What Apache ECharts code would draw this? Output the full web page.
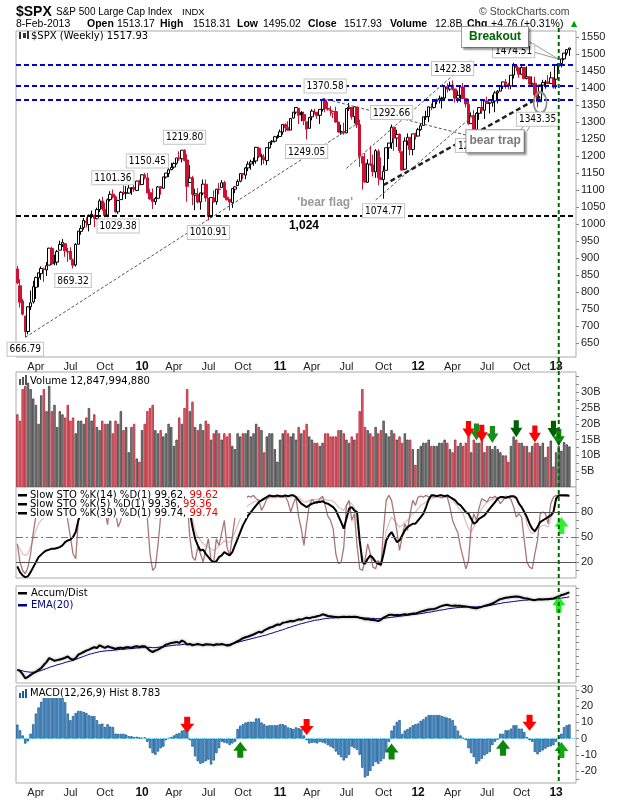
<!DOCTYPE html>
<html>
<head>
<meta charset="utf-8">
<title>$SPX weekly</title>
<script src="https://cdn.jsdelivr.net/npm/echarts@6/dist/echarts.min.js"></script>
<style>
html, body { margin: 0; padding: 0; background: #fff; }
#main { width: 620px; height: 800px; }
</style>
</head>
<body>
<div id="main"></div>
<script>
// week ending dates (MM-DD), one list per year
var w2009 = ['02-13','02-20','02-27','03-06','03-13','03-20','03-27','04-03','04-09','04-17','04-24','05-01','05-08','05-15','05-22','05-29','06-05','06-12','06-19','06-26','07-02','07-10','07-17','07-24','07-31','08-07','08-14','08-21','08-28','09-04','09-11','09-18','09-25','10-02','10-09','10-16','10-23','10-30','11-06','11-13','11-20','11-27','12-04','12-11','12-18','12-24','12-31'];
var w2010 = ['01-08','01-15','01-22','01-29','02-05','02-12','02-19','02-26','03-05','03-12','03-19','03-26','04-02','04-09','04-16','04-23','04-30','05-07','05-14','05-21','05-28','06-04','06-11','06-18','06-25','07-02','07-09','07-16','07-23','07-30','08-06','08-13','08-20','08-27','09-03','09-10','09-17','09-24','10-01','10-08','10-15','10-22','10-29','11-05','11-12','11-19','11-26','12-03','12-10','12-17','12-23','12-31'];
var w2011 = ['01-07','01-14','01-21','01-28','02-04','02-11','02-18','02-25','03-04','03-11','03-18','03-25','04-01','04-08','04-15','04-21','04-29','05-06','05-13','05-20','05-27','06-03','06-10','06-17','06-24','07-01','07-08','07-15','07-22','07-29','08-05','08-12','08-19','08-26','09-02','09-09','09-16','09-23','09-30','10-07','10-14','10-21','10-28','11-04','11-11','11-18','11-25','12-02','12-09','12-16','12-23','12-30'];
var w2012 = ['01-06','01-13','01-20','01-27','02-03','02-10','02-17','02-24','03-02','03-09','03-16','03-23','03-30','04-05','04-13','04-20','04-27','05-04','05-11','05-18','05-25','06-01','06-08','06-15','06-22','06-29','07-06','07-13','07-20','07-27','08-03','08-10','08-17','08-24','08-31','09-07','09-14','09-21','09-28','10-05','10-12','10-19','10-26','11-02','11-09','11-16','11-23','11-30','12-07','12-14','12-21','12-28'];
var w2013 = ['01-04','01-11','01-18','01-25','02-01','02-08'];

// weekly bars: [open, high, low, close]
var spx2009 = [
[868.2,877.0,822.9,826.8],[818.5,837.6,754.3,770.1],[773.7,780.1,731.2,735.1],[729.6,729.6,666.8,683.4],
[684.0,758.3,675.9,756.6],[756.6,804.5,747.0,768.5],[771.0,833.0,765.9,815.9],[814.0,845.6,779.8,842.5],
[842.0,856.9,814.5,856.6],[854.0,875.6,836.0,869.6],[868.0,871.8,830.0,866.2],[865.0,888.7,847.1,877.5],
[879.2,930.2,878.9,929.2],[928.0,933.1,879.4,882.9],[886.0,910.0,878.9,887.0],[888.0,923.9,878.8,919.1],
[923.3,951.0,923.3,940.1],[940.1,956.2,932.7,946.2],[942.5,942.5,903.8,921.2],[918.1,930.2,888.9,918.9],
[919.9,931.9,895.0,896.4],[894.3,898.7,869.3,879.1],[880.0,943.9,875.1,940.4],[940.6,979.4,940.6,979.3],
[978.6,996.7,968.7,987.5],[990.2,1018.0,983.8,1010.5],[1008.9,1020.2,990.2,1004.1],[998.7,1027.6,978.5,1026.1],
[1026.6,1039.5,1017.0,1028.9],[1025.2,1028.0,991.0,1016.4],[1016.4,1048.2,1013.0,1042.7],[1042.7,1074.0,1035.0,1068.3],
[1067.9,1080.2,1039.3,1044.4],[1043.0,1063.0,1019.9,1025.2],[1026.9,1075.3,1020.2,1071.5],[1072.0,1096.6,1066.8,1087.7],
[1088.0,1101.4,1075.3,1079.6],[1080.4,1084.2,1033.4,1036.2],[1036.2,1071.5,1029.4,1069.3],[1072.0,1096.6,1071.5,1093.5],
[1094.0,1113.7,1085.0,1091.4],[1091.0,1112.4,1073.7,1091.5],[1091.1,1119.1,1090.0,1106.0],[1105.5,1108.0,1085.9,1106.4],
[1107.8,1117.7,1093.9,1102.5],[1098.9,1127.5,1097.0,1126.5],[1127.3,1130.4,1114.8,1115.1]
];
var spx2010 = [
[1116.6,1145.4,1116.6,1145.0],[1145.0,1150.4,1131.4,1136.0],[1136.0,1150.45,1090.2,1091.8],[1092.4,1103.7,1071.6,1073.9],
[1073.9,1104.7,1044.5,1066.2],[1065.5,1080.0,1056.5,1075.5],[1075.9,1112.4,1075.9,1109.2],[1110.0,1112.3,1086.0,1104.5],
[1105.4,1139.0,1105.4,1138.7],[1138.4,1150.0,1134.0,1150.0],[1148.5,1169.2,1138.3,1159.9],[1160.0,1180.7,1158.3,1166.6],
[1167.7,1181.4,1163.1,1178.1],[1178.7,1194.7,1175.0,1194.4],[1194.9,1213.9,1186.0,1192.1],[1192.1,1217.3,1181.6,1217.3],
[1217.1,1219.8,1185.0,1186.7],[1188.6,1205.1,1065.8,1110.9],[1122.3,1173.6,1122.3,1135.7],[1136.5,1141.9,1055.9,1087.7],
[1084.8,1104.0,1040.8,1089.4],[1087.3,1105.7,1060.6,1064.9],[1065.0,1092.2,1042.2,1091.6],[1091.2,1131.2,1085.0,1117.5],
[1117.1,1131.2,1066.0,1076.8],[1075.9,1075.9,1010.9,1022.6],[1022.1,1078.2,1018.4,1078.0],[1077.2,1099.1,1063.3,1064.9],
[1066.0,1103.7,1056.9,1102.7],[1102.9,1120.9,1088.0,1101.6],[1107.5,1129.2,1107.5,1121.6],[1122.1,1127.3,1076.6,1079.3],
[1079.3,1100.1,1069.2,1071.7],[1073.4,1073.4,1039.7,1064.6],[1062.9,1105.1,1047.7,1104.5],[1102.6,1110.9,1091.2,1109.6],
[1113.4,1131.5,1113.4,1125.6],[1126.1,1148.9,1122.8,1148.7],[1148.6,1150.3,1131.9,1146.2],[1144.0,1167.7,1131.9,1165.2],
[1165.3,1184.4,1155.7,1176.2],[1176.8,1189.4,1159.7,1183.1],[1184.7,1196.1,1171.7,1183.3],[1185.7,1227.1,1177.7,1225.9],
[1223.2,1227.1,1194.1,1199.2],[1200.4,1207.4,1173.0,1199.7],[1196.8,1205.3,1176.8,1189.4],[1186.6,1225.6,1173.6,1224.7],
[1223.9,1240.4,1222.2,1240.4],[1241.8,1246.7,1232.9,1243.9],[1243.9,1259.4,1240.1,1256.8],[1254.7,1262.6,1251.5,1257.6]
];
var spx2011 = [
[1257.6,1278.2,1257.6,1271.5],[1270.8,1293.2,1262.7,1293.2],[1293.2,1296.1,1271.3,1283.4],[1283.3,1302.7,1275.1,1276.3],
[1276.5,1311.0,1276.5,1310.9],[1311.9,1330.0,1311.0,1329.2],[1329.2,1344.1,1322.8,1343.0],[1340.4,1340.4,1294.3,1319.9],
[1328.6,1332.3,1302.6,1321.2],[1322.7,1330.9,1291.2,1304.3],[1301.2,1301.2,1249.1,1279.2],[1281.7,1314.8,1281.6,1313.8],
[1315.5,1337.9,1305.3,1332.4],[1329.5,1339.5,1322.9,1328.2],[1329.0,1329.0,1309.7,1319.7],[1320.0,1337.5,1294.7,1337.4],
[1337.1,1364.6,1331.1,1363.6],[1365.2,1370.6,1329.2,1340.2],[1340.2,1359.4,1333.6,1337.8],[1334.8,1346.8,1318.5,1333.3],
[1326.3,1334.6,1311.8,1331.1],[1331.1,1345.2,1297.9,1300.2],[1300.3,1300.3,1268.2,1271.0],[1271.0,1292.5,1262.7,1271.5],
[1272.2,1298.6,1262.9,1268.5],[1268.4,1341.0,1267.4,1339.7],[1339.6,1356.5,1333.2,1343.8],[1343.3,1343.3,1307.4,1316.1],
[1315.9,1347.0,1295.9,1345.0],[1344.3,1344.3,1282.9,1292.3],[1292.6,1307.4,1168.1,1199.4],[1198.5,1198.6,1101.5,1178.8],
[1179.2,1208.5,1122.1,1123.5],[1123.2,1190.7,1121.1,1176.8],[1177.9,1230.7,1170.6,1174.0],[1173.6,1204.4,1140.1,1154.2],
[1153.5,1220.4,1136.1,1216.0],[1214.0,1220.0,1114.2,1136.4],[1136.9,1195.9,1128.9,1131.4],[1131.2,1171.4,1074.8,1155.5],
[1158.2,1224.6,1158.2,1224.6],[1224.5,1239.0,1191.5,1238.3],[1238.7,1292.7,1220.9,1285.1],[1284.9,1284.9,1215.4,1253.2],
[1253.2,1277.6,1226.6,1263.9],[1263.9,1266.9,1209.4,1215.7],[1212.9,1212.9,1158.7,1158.7],[1161.4,1255.0,1158.7,1244.3],
[1244.3,1266.7,1231.5,1255.2],[1255.1,1255.1,1202.4,1219.7],[1219.7,1265.4,1202.4,1265.3],[1265.0,1269.4,1248.6,1257.6]
];
var spx2012 = [
[1258.9,1283.1,1258.9,1277.8],[1277.8,1296.8,1274.7,1289.1],[1290.2,1315.5,1290.2,1315.4],[1315.3,1333.5,1306.1,1316.3],
[1316.2,1345.3,1300.5,1344.9],[1344.3,1354.3,1335.0,1342.6],[1343.1,1363.4,1340.0,1361.2],[1361.2,1368.9,1352.3,1365.7],
[1365.2,1378.0,1354.9,1369.6],[1369.6,1374.8,1340.0,1370.9],[1370.8,1405.9,1366.7,1404.2],[1404.2,1414.0,1386.9,1397.1],
[1397.1,1419.2,1391.6,1408.5],[1408.5,1422.4,1392.8,1398.1],[1397.5,1397.5,1357.4,1370.3],[1370.3,1392.8,1357.4,1378.5],
[1378.9,1406.6,1358.8,1403.4],[1403.3,1415.3,1367.7,1369.1],[1369.2,1369.2,1343.1,1353.4],[1351.9,1364.0,1291.9,1295.2],
[1295.7,1328.5,1295.7,1317.8],[1318.9,1334.9,1277.9,1278.0],[1278.3,1329.1,1266.7,1325.7],[1325.9,1343.3,1306.6,1342.8],
[1343.4,1363.5,1324.4,1335.0],[1334.9,1362.2,1309.3,1362.2],[1362.3,1374.8,1354.7,1354.7],[1354.7,1357.6,1325.4,1356.8],
[1356.8,1380.4,1345.1,1362.7],[1362.3,1391.7,1329.2,1386.0],[1385.9,1394.2,1354.7,1391.0],[1391.0,1407.1,1391.0,1405.9],
[1405.9,1418.7,1397.3,1418.2],[1418.1,1426.7,1398.0,1411.1],[1411.1,1416.3,1397.0,1406.6],[1406.5,1437.9,1396.6,1437.9],
[1438.4,1474.5,1428.0,1465.8],[1465.4,1467.1,1449.4,1460.2],[1459.5,1460.7,1430.5,1440.7],[1440.9,1471.0,1439.0,1460.9],
[1460.9,1461.3,1425.5,1428.6],[1428.8,1464.0,1425.5,1433.2],[1433.2,1435.5,1403.3,1411.9],[1411.9,1434.3,1410.0,1414.2],
[1414.0,1433.4,1373.0,1379.9],[1380.0,1388.8,1343.4,1359.9],[1359.9,1409.2,1359.9,1409.2],[1409.0,1424.5,1385.4,1416.2],
[1416.3,1423.7,1398.2,1418.1],[1418.1,1438.6,1411.9,1413.6],[1413.5,1448.0,1413.5,1430.2],[1430.2,1430.7,1398.1,1402.4]
];
var spx2013 = [
[1426.2,1467.9,1398.1,1466.5],[1466.5,1472.3,1451.6,1472.1],[1472.1,1486.0,1461.0,1486.0],[1486.0,1503.3,1482.1,1503.0],
[1503.0,1514.4,1496.3,1513.2],[1513.17,1518.31,1495.02,1517.93]
];

// weekly volume, billions
var vol2009 = [23,21,31,32,33,31,28,26,20,29,31,24,32,24,26,19,24,23,22,26,21,22,17,21,21,20,22,25,21,23,19,18,21,20,20,21,17,21,20,24,18,19,11,19,20,9,8];
var vol2010 = [18,20,24,25,26,18,17,18,16,17,20,19,13,15,22,20,25,31,24,27,19,18,20,18,21,20,15,17,18,17,15,17,16,17,13,12,17,16,17,17,18,16,17,20,19,18,11,16,17,17,12,8];
var vol2011 = [15,17,18,17,16,17,15,19,17,18,20,16,15,14,14,13,14,17,17,16,16,16,18,18,17,15,14,16,15,17,24,31,19,18,17,16,19,17,18,21,17,16,18,17,15,16,14,17,15,15,12,7];
var vol2012 = [12,13,14,14,15,13,13,13,14,14,15,14,12,11,15,13,14,13,14,16,11,15,14,14,17,11,13,13,12,13,12,11,10,10,8,13,16,15,14,14,13,13,11,13,14,14,13,14,9.5,12.8,14.7,6.5];
var vol2013 = [11,13,11.5,14.2,13.5,12.85];

// slow stochastics
var stoK14 = [15,8,4,2,3,8,14,20,26,29,32,34,35,36,36,37,38,40,44,46,47,50,56,70,80,88,94,96,97,97,
96,97,98,96,90,88,92,94,90,84,86,90,92,93,94,93,95,94,96,96,88,78,74,75,80,84,90,93,95,96,
97,98,97,98,96,80,62,48,40,34,35,30,26,22,20,21,26,28,32,30,28,32,40,48,56,64,70,76,80,84,
88,92,94,96,98,100,99,99,100,99,99,100,99,100,100,98,94,90,88,86,88,90,91,92,92,93,91,90,88,
86,82,75,68,60,72,84,86,82,80,46,20,18,24,28,25,20,18,17,30,46,52,56,50,44,46,52,58,62,64,
66,66,70,74,78,86,95,100,100,99,100,100,99,100,98,96,94,90,88,84,80,78,72,66,68,72,74,76,80,84,
88,92,96,98,98,97,98,99,99,97,90,86,80,74,66,60,57,62,68,70,72,74,76,80,96,100,100,100,100,99.62];
var stoK5 = [42,20,10,6,14,30,55,75,88,92,90,94,96,80,78,85,92,96,90,70,50,30,24,70,95,100,98,92,96,94,
88,96,98,82,65,90,96,80,62,70,88,94,90,92,88,90,96,94,98,72,30,10,14,40,75,90,98,100,99,98,
100,98,96,99,94,50,26,22,38,30,20,35,48,22,20,48,40,55,70,38,28,50,74,90,96,98,96,99,98,100,
96,94,82,88,96,98,100,99,98,100,98,99,92,80,90,98,74,60,40,66,88,95,92,90,96,99,88,75,70,
60,30,18,20,38,88,94,70,78,40,12,10,22,42,30,14,12,22,15,60,94,100,94,76,58,34,50,66,58,78,
94,88,98,99,98,100,98,99,98,100,98,97,99,98,86,70,62,55,38,25,12,22,62,78,70,85,96,94,92,98,
97,99,96,90,94,99,98,95,86,74,78,74,46,20,14,12,30,46,78,80,78,66,90,98,100,99,100,99,99,99.36];
var stoK39 = [40,36,30,28,30,38,48,58,66,70,74,78,80,80,82,84,86,86,84,82,80,76,74,84,90,94,96,96,97,97,
96,97,97,95,90,92,94,93,88,86,90,92,93,94,94,94,95,95,96,94,86,78,72,74,80,86,92,95,96,97,
97,98,97,98,97,88,72,58,50,46,42,40,38,36,34,36,40,42,46,44,44,48,56,64,72,78,84,88,90,92,
93,94,94,95,96,97,97,97,98,97,98,98,99,98,98,99,98,95,92,92,94,95,95,95,96,96,95,94,94,
93,90,86,84,82,88,92,90,86,66,42,28,20,24,26,22,22,20,20,36,58,66,74,70,66,62,64,68,70,74,
78,80,84,88,90,92,94,96,97,98,98,99,98,98,97,94,90,86,82,78,68,60,56,62,70,78,84,88,92,94,
95,96,97,97,96,97,97,98,97,96,92,86,80,66,58,54,56,60,62,64,64,62,72,80,98,99,99,100,100,99.74];

// accumulation / distribution line and its 20-week EMA (relative units)
var accDist = [39,36,26,14,18,24,29,33,39,44,54,62,74,70,66,68,70,72,75,79,72,69,74,84,88,92,96,99,103,106,
104,112,108,104,109,106,104,101,104,105,103,106,106,104,108,109,107,109,109,103,96,92,96,99,104,108,114,116,119,120,
122,119,126,122,114,116,112,114,116,114,112,115,114,114,112,115,114,116,114,111,112,116,120,124,128,133,136,138,141,144,
148,152,150,156,160,164,166,170,174,173,179,180,182,184,183,186,189,188,191,194,192,195,196,198,200,204,202,199,198,197,
196,195,196,197,196,197,196,197,196,194,192,189,190,188,187,186,184,188,194,198,202,203,201,202,201,203,204,203,205,206,
206,209,212,214,216,218,219,220,222,226,229,231,232,230,229,230,229,229,228,227,226,224,223,222,224,226,229,231,233,236,
240,245,249,251,253,254,255,256,257,256,254,252,251,249,247,246,248,249,248,249,249,250,251,254,257,261,263,266,269];
var accDistEma = [39,38,36,34,33,32,32,33,35,37,40,43,46,49,51,54,56,58,61,63,65,67,70,73,76,79,82,85,87,89,
91,93,94,95,96,96,97,98,99,100,100,101,102,102,103,104,104,105,105,106,106,105,105,106,107,108,109,110,111,112,
113,113,114,115,115,115,115,114,114,114,114,114,114,114,114,114,114,114,114,114,115,117,119,121,123,125,127,129,131,133,
135,137,139,141,143,146,148,151,153,156,158,161,164,166,169,171,174,176,178,180,182,184,186,187,188,190,191,192,193,193,
194,194,195,195,195,195,195,195,195,194,194,193,193,192,192,191,191,191,192,193,194,195,196,197,198,199,200,201,202,203,
204,205,206,207,209,210,211,213,214,216,217,218,220,221,222,223,224,224,225,226,226,226,226,226,226,227,228,229,230,232,
233,235,236,238,239,240,241,242,243,244,245,246,246,247,247,247,248,248,248,249,249,249,250,250,251,252,253,254,256];

// MACD(12,26,9) histogram
var macdHist = [8.7,5.2,2,-3.1,-1.7,3.1,8.9,15.5,19.3,22.8,25.5,27,28,28.5,28,27.5,26.5,25.5,22.5,15.5,
11.4,14,15.9,17.2,17,16.5,15.9,14.5,14,14,11.4,8.9,9.3,7.2,8.9,7.5,7.2,3.1,3,3,
3,2.5,1.5,1.5,1,1.2,0.8,0.6,0.8,-2,-6,-9,-10,-8,-6,-5,-1,0.5,1,2,
3,3.5,5,5.5,5.6,-1,-5,-11,-14,-15.6,-15,-14,-13,-16,-13.5,-9,-6,-2,-2.5,-3,
-4,-3,-2,6,8,9,10,10.4,10.5,10.4,12.5,12.5,10,9,8,8.3,8.3,8.3,8.3,9,
9,8.3,7,6.5,6,7,6.5,6,2,-1,-3,-2.7,-2.5,-3,-2,-2.5,-3,-4,-5,-6,
-8,-10,-11.5,-13.5,-12,-10,-5,-6,-7,-10,-18,-24,-23,-20,-17,-14.6,-15.6,-14,-12.5,-8,
-2,5,8,10.4,11.5,3,5,6,7,8.3,9,9.4,11,12,13.5,14.6,14.6,14.6,14.6,14.6,
14,13.5,13,12.5,11.5,8,5,2,0.5,-1,-6,-9,-11.5,-15.6,-14,-12.5,-10.4,-9.5,-8.3,-4,
-2,-0.6,3.1,3,5.2,5.2,6.2,8.3,8.3,6.2,6.2,4.1,1,-1,-2,-8.3,-9.7,-8.3,-7.3,-6.2,
-5.2,-4.8,-4.1,-2,1,3.1,7.2,8.3,8.78];

// axis ticks
var priceTicks = [650,700,750,800,850,900,950,1000,1050,1100,1150,1200,1250,1300,1350,1400,1450,1500,1550];
var volTicks = [5,10,15,20,25,30];
var stoTicks = [20,50,80];
var macdTicks = [-20,-10,0,10,20,30];

// annotations
var levels = [1470,1407,1366];
var floorLevel = 1024;
var peakIdx = [3,21,36,38,49,63,72,109,116,138,141,164,173,187,196];
var peakVal = [666.79,869.32,1101.36,1029.38,1150.45,1219.80,1010.91,1249.05,1370.58,1074.77,1292.66,1422.38,1266.74,1474.51,1343.35];
var peakPos = ['bottom','bottom','top','bottom','top','top','bottom','bottom','top','bottom','top','top','bottom','top','bottom'];
var breakoutWeek = 204;
var volArrows = [[170,18.2,'d','#ff0000'],[173,17.4,'d','#1a8c1a'],[175,17,'d','#ff0000'],[179,16.6,'d','#1a8c1a'],[188,18.4,'d','#006000'],[195,16.8,'d','#ff0000'],[202,18.3,'d','#006000'],[204,15.7,'d','#0a8a0a']];
var stoArrows = [[205,64,'u','#33ee33']];
var adArrows = [[204,234,'u','#22ee22']];
var macdArrows = [[64,8.6,'d','#ff0000'],[109,7.2,'d','#ff0000'],[193,9.8,'d','#ff0000'],[84,-6.8,'u','#0a870a'],[141,-8,'u','#0a870a'],[183,-5.7,'u','#0a870a'],[205,-7,'u','#14a814']];

var RED = '#cc1133';
var SANS = 'Liberation Sans';
var VERD = 'DejaVu Sans';

var weeks = [];
[[2009, w2009], [2010, w2010], [2011, w2011], [2012, w2012], [2013, w2013]].forEach(function (p) {
    p[1].forEach(function (d) { weeks.push(p[0] + '-' + d); });
});
var cats = weeks.concat(['', '']);   // a little room after the last bar

var ohlc = [].concat(spx2009, spx2010, spx2011, spx2012, spx2013);
var volume = [].concat(vol2009, vol2010, vol2011, vol2012, vol2013);

var monthName = {4: 'Apr', 7: 'Jul', 10: 'Oct'};
var tickText = weeks.map(function (d, i) {
    if (i === 0) return '';
    var m = +d.slice(5, 7), pm = +weeks[i - 1].slice(5, 7);
    if (m === pm || (m - 1) % 3 !== 0) return '';
    return m === 1 ? '{y|' + d.slice(2, 4) + '}' : monthName[m];
});

var candleData = ohlc.map(function (r, i) {
    var o = r[0], h = r[1], l = r[2], c = r[3];
    var prev = i > 0 ? ohlc[i - 1][3] : o;
    var line = c < prev ? RED : '#000';
    var fill = c > o ? '#fff' : line;
    return {value: [o, c, l, h], itemStyle: {color: fill, color0: fill, borderColor: line, borderColor0: line}};
});

var volData = volume.map(function (v, i) {
    var prev = i > 0 ? ohlc[i - 1][3] : ohlc[i][0];
    var down = ohlc[i][3] < prev;
    return {value: v, itemStyle: down ? {color: '#de7078', borderColor: '#b3202e'} : {color: '#8b8b8b', borderColor: '#3a3a3a'}};
});

var arrowDown = 'path://M4,0L10,0L10,7L14,7L7,16L0,7L4,7Z';
var arrowUp = 'path://M7,0L14,9L10,9L10,16L4,16L4,9L0,9Z';
function arrowMarks(list, size) {
    return {
        silent: true, animation: false, label: {show: false},
        data: list.map(function (a) {
            return {coord: [a[0], a[1]], symbol: a[2] === 'd' ? arrowDown : arrowUp, symbolSize: size, itemStyle: {color: a[3]}};
        })
    };
}

var peakMarks = peakIdx.map(function (ix, k) {
    return {
        coord: [ix, peakVal[k]], symbol: 'rect', symbolSize: 1, itemStyle: {color: 'rgba(0,0,0,0)'},
        label: {show: true, position: peakPos[k], distance: 5, formatter: peakVal[k].toFixed(2)}
    };
});

var thin = {color: '#555', width: 1, type: [3, 2]};
function seg(a, b, style) { return [{coord: a, lineStyle: style}, {coord: b}]; }

var grids = [
    {left: 16, right: 44, top: 31, height: 326},
    {left: 16, right: 44, top: 372, height: 115},
    {left: 16, right: 44, top: 487, height: 91},
    {left: 16, right: 44, top: 586, height: 97},
    {left: 16, right: 44, top: 686, height: 97}
].map(function (g) { g.show = true; g.borderColor = '#aaa'; g.borderWidth = 1; g.backgroundColor = '#fff'; return g; });

function xAx(gi, showLabel) {
    return {
        type: 'category', gridIndex: gi, data: cats, boundaryGap: true,
        axisLine: {show: false}, axisTick: {show: false}, splitLine: {show: false},
        axisLabel: showLabel ? {
            show: true, margin: 4, fontSize: 11, fontFamily: SANS, color: '#222',
            interval: function (i) { return !!tickText[i]; },
            formatter: function (v, i) { return tickText[i] || ''; },
            rich: {y: {fontWeight: 'bold', fontSize: 12, fontFamily: SANS, color: '#111'}}
        } : {show: false}
    };
}
function yAx(gi, min, max, labels, ticks, fmt) {
    return {
        type: 'value', gridIndex: gi, position: 'right', min: min, max: max,
        splitLine: {show: false}, axisLine: {show: false},
        axisTick: {show: true, length: 3, customValues: ticks, lineStyle: {color: '#888'}},
        axisLabel: labels ? {show: true, customValues: labels, margin: 5, fontSize: 11, fontFamily: SANS, color: '#222',
            formatter: fmt || function (v) { return String(v); }} : {show: false}
    };
}

var option = {
    animation: false,
    backgroundColor: '#fff',
    textStyle: {fontFamily: SANS},
    grid: grids,
    xAxis: [xAx(0, true), xAx(1, false), xAx(2, false), xAx(3, false), xAx(4, true)],
    yAxis: [
        yAx(0, 609, 1568, priceTicks, priceTicks),
        yAx(1, 0, 36.4, volTicks, [2.5, 5, 7.5, 10, 12.5, 15, 17.5, 20, 22.5, 25, 27.5, 30, 32.5, 35], function (v) { return v + 'B'; }),
        yAx(2, 1, 110, stoTicks, [10, 20, 30, 40, 50, 60, 70, 80, 90, 100]),
        yAx(3, 0, 288, null, [20, 40, 60, 80, 100, 120, 140, 160, 180, 200, 220, 240, 260, 280]),
        yAx(4, -27.4, 32.5, macdTicks, [-25, -20, -15, -10, -5, 0, 5, 10, 15, 20, 25, 30])
    ],
    series: [
        {
            name: '$SPX', type: 'candlestick', xAxisIndex: 0, yAxisIndex: 0, z: 3,
            barWidth: 3, data: candleData, itemStyle: {borderWidth: 1},
            markLine: {
                silent: true, animation: false, symbol: ['none', 'none'], label: {show: false},
                data: levels.map(function (v) { return {yAxis: v, lineStyle: {color: '#0000dd', width: 2, type: [5, 3]}}; })
                    .concat([{yAxis: floorLevel, lineStyle: {color: '#000', width: 2, type: [5, 3]}}])
                    .concat([
                        seg([3, 666.79], [129, 1300], thin),
                        seg([124, 1164], [171, 1484], thin),
                        seg([135, 1071], [172, 1321], thin),
                        seg([115, 1370], [169, 1262], thin),
                        seg([138, 1115], [197, 1374], {color: '#222', width: 2.5, type: [5, 3]})
                    ])
            },
            markPoint: {
                silent: true, animation: false,
                label: {color: '#000', fontSize: 10, fontFamily: 'DejaVu Sans Condensed', backgroundColor: '#fff', borderColor: '#c4c4c4', borderWidth: 1, padding: [2, 2, 1, 2]},
                data: peakMarks
            }
        },
        {
            name: 'notes', type: 'line', xAxisIndex: 0, yAxisIndex: 0, z: 6, data: [], symbol: 'none',
            markLine: {
                silent: true, animation: false, symbol: ['none', 'none'], label: {show: false},
                data: [
                    seg([188, 1521], [204, 1485], {color: '#999', width: 1, type: 'solid'}),
                    seg([192, 1541], [204, 1485], {color: '#999', width: 1, type: 'solid'}),
                    seg([189, 1273], [196, 1329], {color: '#999', width: 1, type: 'solid'}),
                    seg([192, 1273], [196, 1329], {color: '#999', width: 1, type: 'solid'})
                ]
            },
            markPoint: {
                silent: true, animation: false,
                data: [
                    {coord: [197, 1357], symbol: 'circle', symbolSize: [13, 21], itemStyle: {color: 'rgba(0,0,0,0)', borderColor: '#8a8a8a', borderWidth: 2}, label: {show: false}},
                    {coord: [180, 1550], symbol: 'rect', symbolSize: 1, itemStyle: {color: 'rgba(0,0,0,0)'},
                        label: {show: true, position: 'inside', formatter: 'Breakout', color: '#006600', fontWeight: 'bold', fontSize: 12, fontFamily: SANS,
                            backgroundColor: '#fff', borderColor: '#999', borderWidth: 1, padding: [4, 7], shadowColor: 'rgba(0,0,0,0.3)', shadowOffsetX: 2, shadowOffsetY: 2, shadowBlur: 2}},
                    {coord: [180, 1244], symbol: 'rect', symbolSize: 1, itemStyle: {color: 'rgba(0,0,0,0)'},
                        label: {show: true, position: 'inside', formatter: 'bear trap', color: '#7a7a7a', fontWeight: 'bold', fontSize: 12, fontFamily: SANS,
                            backgroundColor: '#fff', borderColor: '#999', borderWidth: 1, padding: [5, 3], shadowColor: 'rgba(0,0,0,0.3)', shadowOffsetX: 2, shadowOffsetY: 2, shadowBlur: 2}},
                    {coord: [116, 1062], symbol: 'rect', symbolSize: 1, itemStyle: {color: 'rgba(0,0,0,0)'},
                        label: {show: true, position: 'inside', formatter: "'bear flag'", color: '#999', fontWeight: 'bold', fontSize: 12, fontFamily: SANS}},
                    {coord: [108, 994], symbol: 'rect', symbolSize: 1, itemStyle: {color: 'rgba(0,0,0,0)'},
                        label: {show: true, position: 'inside', formatter: '1,024', color: '#000', fontWeight: 'bold', fontSize: 12, fontFamily: SANS}}
                ]
            }
        },
        {
            name: 'Volume', type: 'bar', xAxisIndex: 1, yAxisIndex: 1, data: volData,
            barCategoryGap: '12%', itemStyle: {borderWidth: 0.8},
            markPoint: arrowMarks(volArrows, [12, 17])
        },
        {
            name: 'K39', type: 'line', xAxisIndex: 2, yAxisIndex: 2, data: stoK39, symbol: 'none',
            lineStyle: {color: '#dcc4c4', width: 1.3},
            markLine: {
                silent: true, animation: false, symbol: ['none', 'none'], label: {show: false},
                lineStyle: {color: '#555', width: 1, type: 'solid'},
                data: [{yAxis: 80}, {yAxis: 20}, {yAxis: 50, lineStyle: {color: '#777', width: 1, type: [7, 3, 2, 3]}}]
            }
        },
        {name: 'K5', type: 'line', xAxisIndex: 2, yAxisIndex: 2, data: stoK5, symbol: 'none', lineStyle: {color: '#a97876', width: 1.3}},
        {name: 'K14', type: 'line', xAxisIndex: 2, yAxisIndex: 2, data: stoK14, symbol: 'none', lineStyle: {color: '#000', width: 2}, z: 4,
            markPoint: arrowMarks(stoArrows, [14, 17])},
        {name: 'EMA', type: 'line', xAxisIndex: 3, yAxisIndex: 3, data: accDistEma, symbol: 'none', lineStyle: {color: '#000088', width: 1}},
        {name: 'AD', type: 'line', xAxisIndex: 3, yAxisIndex: 3, data: accDist, symbol: 'none', z: 4,
            lineStyle: {color: '#000', width: 2, shadowColor: 'rgba(0,0,0,0.35)', shadowBlur: 3},
            markPoint: arrowMarks(adArrows, [13, 17])},
        {
            name: 'MACD', type: 'bar', xAxisIndex: 4, yAxisIndex: 4, data: macdHist,
            barCategoryGap: '8%', itemStyle: {color: '#58a0d3', borderColor: '#1d5a95', borderWidth: 0.8},
            markLine: {silent: true, animation: false, symbol: ['none', 'none'], label: {show: false},
                lineStyle: {color: '#6cc6ea', width: 1, type: 'dotted'}, data: [{yAxis: 0}]},
            markPoint: arrowMarks(macdArrows, [14, 16])
        }
    ]
};

var myChart = echarts.init(document.getElementById('main'));
myChart.setOption(option);

// text, legends and the breakout marker line
function txt(x, y, s, font, fill, z) {
    return {type: 'text', x: x, y: y, z: z || 1, style: {text: s, font: font, fill: fill || '#000', verticalAlign: 'middle'}};
}
function rich(x, y, s, font, z) {
    return {type: 'text', x: x, y: y, z: z || 60, style: {text: s, font: font, fill: '#000', verticalAlign: 'middle',
        rich: {r: {fill: '#ee0000', font: font}}}};
}
function box(x, y, w, h, fill, z) {
    return {type: 'rect', z: z || 55, shape: {x: x, y: y, width: w, height: h}, style: {fill: fill}};
}
var f105 = '10.5px "' + SANS + '"', b105 = 'bold 10.5px "' + SANS + '"', lg = '10px "' + VERD + '"';
var vx = myChart.convertToPixel({xAxisIndex: 0}, breakoutWeek);

var g = [
    txt(16, 12, '$SPX', 'bold 14px "' + SANS + '"'),
    txt(56, 12, 'S&P 500 Large Cap Index', '10px "' + SANS + '"'),
    txt(182, 12, 'INDX', '9.5px "' + SANS + '"'),
    txt(479, 12, '\u00a9 StockCharts.com', '10.5px "' + SANS + '"', '#444'),
    txt(16, 24, '8-Feb-2013', f105),
    txt(87, 24, 'Open', b105), txt(117, 24, '1513.17', f105),
    txt(160, 24, 'High', b105), txt(193, 24, '1518.31', f105),
    txt(237, 24, 'Low', b105), txt(263, 24, '1495.02', f105),
    txt(308, 24, 'Close', b105), txt(344, 24, '1517.93', f105),
    txt(390, 24, 'Volume', b105), txt(435, 24, '12.8B', f105),
    txt(467, 24, 'Chg', b105), txt(491, 24, '+4.76 (+0.31%)', f105),
    txt(571, 24, '\u25B2', '8px "' + VERD + '"', '#00a000'),

    // price legend
    box(19, 32, 2, 7, '#333', 5), box(23, 33, 3, 5, '#333', 5), box(27, 31, 2, 8, '#333', 5),
    txt(31, 36, '$SPX (Weekly) 1517.93', lg, '#000', 5),

    // volume legend
    box(19, 379, 2, 6, '#555', 5), box(22, 377, 2, 8, '#555', 5), box(25, 375, 2, 10, '#555', 5),
    txt(30, 381, 'Volume 12,847,994,880', lg, '#000', 5),

    // stochastics legend
    box(17, 488, 230, 30, '#fff', 55),
    box(18, 494, 9, 2.5, '#000', 56), box(18, 503, 9, 2.5, '#000', 56), box(18, 512, 9, 2.5, '#000', 56),
    rich(30, 495, 'Slow STO %K(14) %D(1) 99.62, {r|99.62}', lg),
    rich(30, 504, 'Slow STO %K(5) %D(1) 99.36, {r|99.36}', lg),
    rich(30, 513, 'Slow STO %K(39) %D(1) 99.74, {r|99.74}', lg),

    // accum/dist legend
    box(18, 592, 9, 2.5, '#000', 5), txt(31, 593, 'Accum/Dist', lg, '#000', 5),
    box(18, 604, 9, 2.5, '#000088', 5), txt(31, 605, 'EMA(20)', lg, '#000088', 5),

    // macd legend
    box(17, 687, 180, 11, '#fff', 55),
    box(19, 693, 2, 5, '#1d5a95', 56), box(22, 691, 2, 7, '#1d5a95', 56), box(25, 689, 2, 9, '#1d5a95', 56),
    txt(30, 693, 'MACD(12,26,9) Hist 8.783', lg, '#000', 57),

    // breakout line through every panel
    {type: 'line', z: 40, shape: {x1: vx, y1: 28, x2: vx, y2: 783}, style: {stroke: '#006600', lineWidth: 2, lineDash: [4, 3]}}
];
myChart.setOption({graphic: g});
</script>
</body>
</html>
